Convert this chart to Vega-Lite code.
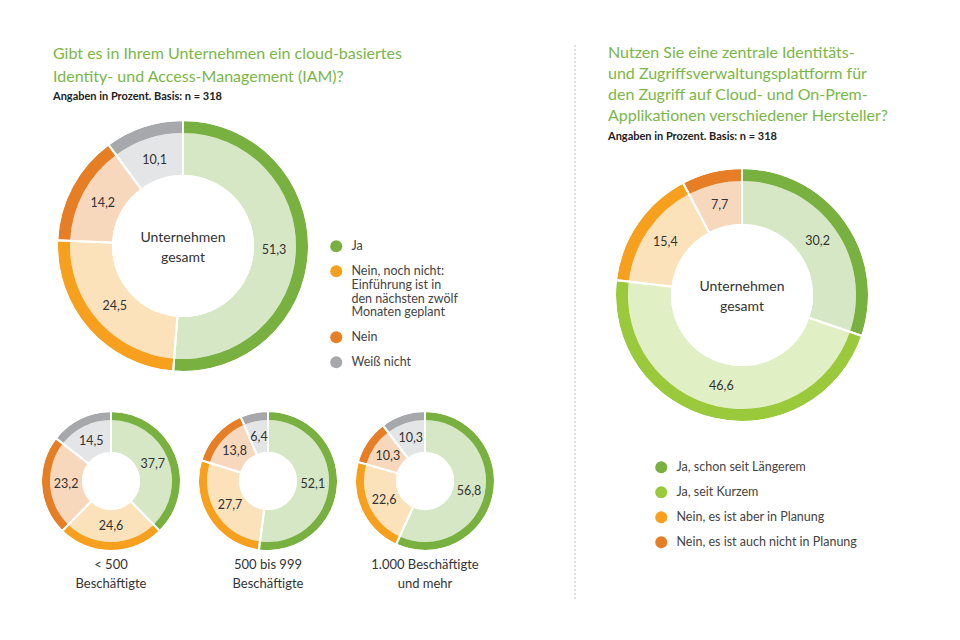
{
  "$schema": "https://vega.github.io/schema/vega-lite/v6.json",
  "padding": {"left": 37, "top": 44, "right": 38, "bottom": 40},
  "background": "white",
  "config": {
    "view": {"stroke": null},
    "font": "Lato",
    "locale": {"number": {"decimal": ",", "thousands": ".", "grouping": [3], "currency": ["", " €"]}}
  },
  "datasets": {
    "gesamt": [
      {"Antwort": "Ja", "Anteil": 51.3, "Rang": 1},
      {"Antwort": "Nein, noch nicht", "Anteil": 24.5, "Rang": 2},
      {"Antwort": "Nein", "Anteil": 14.2, "Rang": 3},
      {"Antwort": "Weiß nicht", "Anteil": 10.1, "Rang": 4}
    ],
    "klein": [
      {"Gruppe": "< 500", "Antwort": "Ja", "Anteil": 37.7, "Rang": 1},
      {"Gruppe": "< 500", "Antwort": "Nein, noch nicht", "Anteil": 24.6, "Rang": 2},
      {"Gruppe": "< 500", "Antwort": "Nein", "Anteil": 23.2, "Rang": 3},
      {"Gruppe": "< 500", "Antwort": "Weiß nicht", "Anteil": 14.5, "Rang": 4},
      {"Gruppe": "500 bis 999", "Antwort": "Ja", "Anteil": 52.1, "Rang": 1},
      {"Gruppe": "500 bis 999", "Antwort": "Nein, noch nicht", "Anteil": 27.7, "Rang": 2},
      {"Gruppe": "500 bis 999", "Antwort": "Nein", "Anteil": 13.8, "Rang": 3},
      {"Gruppe": "500 bis 999", "Antwort": "Weiß nicht", "Anteil": 6.4, "Rang": 4},
      {"Gruppe": "1.000 und mehr", "Antwort": "Ja", "Anteil": 56.8, "Rang": 1},
      {"Gruppe": "1.000 und mehr", "Antwort": "Nein, noch nicht", "Anteil": 22.6, "Rang": 2},
      {"Gruppe": "1.000 und mehr", "Antwort": "Nein", "Anteil": 10.3, "Rang": 3},
      {"Gruppe": "1.000 und mehr", "Antwort": "Weiß nicht", "Anteil": 10.3, "Rang": 4}
    ],
    "zentral": [
      {"Antwort": "Ja, schon seit Längerem", "Anteil": 30.2, "Rang": 1},
      {"Antwort": "Ja, seit Kurzem", "Anteil": 46.6, "Rang": 2},
      {"Antwort": "Nein, es ist aber in Planung", "Anteil": 15.4, "Rang": 3},
      {"Antwort": "Nein, es ist auch nicht in Planung", "Anteil": 7.7, "Rang": 4}
    ],
    "mitte": [{"t": "Unternehmen gesamt"}],
    "linie": [{"d": 0}]
  },
  "spacing": 66,
  "resolve": {"scale": {"color": "independent", "theta": "independent"}, "legend": {"color": "independent"}},
  "hconcat": [
    {
      "bounds": "flush",
      "spacing": 0,
      "resolve": {"scale": {"color": "independent", "theta": "independent"}, "legend": {"color": "independent"}},
      "vconcat": [
        {
          "width": 250,
          "height": 402,
          "data": {"name": "gesamt"},
          "title": {
            "text": ["Gibt es in Ihrem Unternehmen ein cloud-basiertes", "Identity- und Access-Management (IAM)?"],
            "subtitle": "Angaben in Prozent. Basis: n = 318",
            "anchor": "start",
            "offset": -57,
            "fontSize": 16,
            "fontWeight": "normal",
            "color": "#7AB648",
            "lineHeight": 23,
            "subtitleFontSize": 11,
            "subtitleFontWeight": "bold",
            "subtitleColor": "#222222",
            "subtitlePadding": 6
          },
          "layer": [
            {
              "mark": {"type": "arc", "radius": 125, "radius2": 113},
              "encoding": {
                "theta": {"field": "Anteil", "type": "quantitative", "stack": true},
                "order": {"field": "Rang", "type": "quantitative"},
                "color": {
                  "field": "Antwort",
                  "type": "nominal",
                  "scale": {"domain": ["Ja", "Nein, noch nicht", "Nein", "Weiß nicht"], "range": ["#78B13F", "#F6A01E", "#E57E25", "#A6A8AB"]},
                  "legend": {
                    "orient": "none",
                    "legendX": 272,
                    "legendY": 195,
                    "title": null,
                    "padding": 0,
                    "symbolType": "circle",
                    "symbolSize": 144,
                    "symbolOpacity": 1,
                    "symbolStrokeWidth": 0,
                    "labelFontSize": 12.5,
                    "labelColor": "#444444",
                    "labelOffset": 9,
                    "labelLimit": 300,
                    "rowPadding": 12,
                    "labelExpr": "datum.value == 'Nein, noch nicht' ? ['Nein, noch nicht:', 'Einführung ist in', 'den nächsten zwölf', 'Monaten geplant'] : datum.label",
                    "encode": {"labels": {"update": {"lineHeight": {"value": 13.7}}}}
                  }
                }
              }
            },
            {
              "mark": {"type": "arc", "radius": 113, "radius2": 71, "fillOpacity": 0.3},
              "encoding": {
                "theta": {"field": "Anteil", "type": "quantitative", "stack": true},
                "order": {"field": "Rang", "type": "quantitative"},
                "color": {"field": "Antwort", "type": "nominal"}
              }
            },
            {
              "mark": {"type": "arc", "radius": 126, "radius2": 70, "fillOpacity": 0, "stroke": "white", "strokeWidth": 2},
              "encoding": {
                "theta": {"field": "Anteil", "type": "quantitative", "stack": true},
                "order": {"field": "Rang", "type": "quantitative"}
              }
            },
            {
              "mark": {"type": "text", "radius": 91, "fontSize": 12.5, "color": "#333333"},
              "encoding": {
                "theta": {"field": "Anteil", "type": "quantitative", "stack": true},
                "order": {"field": "Rang", "type": "quantitative"},
                "text": {"field": "Anteil", "type": "quantitative", "format": ".1f"}
              }
            },
            {
              "data": {"name": "mitte"},
              "mark": {"type": "text", "text": ["Unternehmen", "gesamt"], "fontSize": 14, "lineHeight": 20, "color": "#333333", "baseline": "middle", "dy": -8},
              "encoding": {}
            }
          ]
        },
        {
          "bounds": "flush",
          "spacing": 51,
          "resolve": {"scale": {"color": "independent", "theta": "independent"}, "legend": {"color": "independent"}},
          "hconcat": [
            {
              "width": 106,
              "height": 68,
              "data": {"name": "klein"},
              "transform": [{"filter": "datum.Gruppe == '< 500'"}],
              "title": {"text": ["< 500", "Beschäftigte"], "orient": "bottom", "anchor": "middle", "offset": 4, "fontSize": 13, "fontWeight": "normal", "color": "#333333", "lineHeight": 19},
              "layer": [
                {"mark": {"type": "arc", "radius": 69, "radius2": 61}, "encoding": {"theta": {"field": "Anteil", "type": "quantitative", "stack": true}, "order": {"field": "Rang", "type": "quantitative"}, "color": {"field": "Antwort", "type": "nominal", "scale": {"domain": ["Ja", "Nein, noch nicht", "Nein", "Weiß nicht"], "range": ["#78B13F", "#F6A01E", "#E57E25", "#A6A8AB"]}, "legend": null}}},
                {"mark": {"type": "arc", "radius": 61, "radius2": 29, "fillOpacity": 0.3}, "encoding": {"theta": {"field": "Anteil", "type": "quantitative", "stack": true}, "order": {"field": "Rang", "type": "quantitative"}, "color": {"field": "Antwort", "type": "nominal"}}},
                {"mark": {"type": "arc", "radius": 70, "radius2": 28, "fillOpacity": 0, "stroke": "white", "strokeWidth": 2}, "encoding": {"theta": {"field": "Anteil", "type": "quantitative", "stack": true}, "order": {"field": "Rang", "type": "quantitative"}}},
                {"mark": {"type": "text", "radius": 45, "fontSize": 12.5, "color": "#333333"}, "encoding": {"theta": {"field": "Anteil", "type": "quantitative", "stack": true}, "order": {"field": "Rang", "type": "quantitative"}, "text": {"field": "Anteil", "type": "quantitative", "format": ".1f"}}}
              ]
            },
            {
              "width": 106,
              "height": 68,
              "data": {"name": "klein"},
              "transform": [{"filter": "datum.Gruppe == '500 bis 999'"}],
              "title": {"text": ["500 bis 999", "Beschäftigte"], "orient": "bottom", "anchor": "middle", "offset": 4, "fontSize": 13, "fontWeight": "normal", "color": "#333333", "lineHeight": 19},
              "layer": [
                {"mark": {"type": "arc", "radius": 69, "radius2": 61}, "encoding": {"theta": {"field": "Anteil", "type": "quantitative", "stack": true}, "order": {"field": "Rang", "type": "quantitative"}, "color": {"field": "Antwort", "type": "nominal", "scale": {"domain": ["Ja", "Nein, noch nicht", "Nein", "Weiß nicht"], "range": ["#78B13F", "#F6A01E", "#E57E25", "#A6A8AB"]}, "legend": null}}},
                {"mark": {"type": "arc", "radius": 61, "radius2": 29, "fillOpacity": 0.3}, "encoding": {"theta": {"field": "Anteil", "type": "quantitative", "stack": true}, "order": {"field": "Rang", "type": "quantitative"}, "color": {"field": "Antwort", "type": "nominal"}}},
                {"mark": {"type": "arc", "radius": 70, "radius2": 28, "fillOpacity": 0, "stroke": "white", "strokeWidth": 2}, "encoding": {"theta": {"field": "Anteil", "type": "quantitative", "stack": true}, "order": {"field": "Rang", "type": "quantitative"}}},
                {"mark": {"type": "text", "radius": 45, "fontSize": 12.5, "color": "#333333"}, "encoding": {"theta": {"field": "Anteil", "type": "quantitative", "stack": true}, "order": {"field": "Rang", "type": "quantitative"}, "text": {"field": "Anteil", "type": "quantitative", "format": ".1f"}}}
              ]
            },
            {
              "width": 106,
              "height": 68,
              "data": {"name": "klein"},
              "transform": [{"filter": "datum.Gruppe == '1.000 und mehr'"}],
              "title": {"text": ["1.000 Beschäftigte", "und mehr"], "orient": "bottom", "anchor": "middle", "offset": 4, "fontSize": 13, "fontWeight": "normal", "color": "#333333", "lineHeight": 19},
              "layer": [
                {"mark": {"type": "arc", "radius": 69, "radius2": 61}, "encoding": {"theta": {"field": "Anteil", "type": "quantitative", "stack": true}, "order": {"field": "Rang", "type": "quantitative"}, "color": {"field": "Antwort", "type": "nominal", "scale": {"domain": ["Ja", "Nein, noch nicht", "Nein", "Weiß nicht"], "range": ["#78B13F", "#F6A01E", "#E57E25", "#A6A8AB"]}, "legend": null}}},
                {"mark": {"type": "arc", "radius": 61, "radius2": 29, "fillOpacity": 0.3}, "encoding": {"theta": {"field": "Anteil", "type": "quantitative", "stack": true}, "order": {"field": "Rang", "type": "quantitative"}, "color": {"field": "Antwort", "type": "nominal"}}},
                {"mark": {"type": "arc", "radius": 70, "radius2": 28, "fillOpacity": 0, "stroke": "white", "strokeWidth": 2}, "encoding": {"theta": {"field": "Anteil", "type": "quantitative", "stack": true}, "order": {"field": "Rang", "type": "quantitative"}}},
                {"mark": {"type": "text", "radius": 45, "fontSize": 12.5, "color": "#333333"}, "encoding": {"theta": {"field": "Anteil", "type": "quantitative", "stack": true}, "order": {"field": "Rang", "type": "quantitative"}, "text": {"field": "Anteil", "type": "quantitative", "format": ".1f"}}}
              ]
            }
          ]
        }
      ]
    },
    {
      "bounds": "flush",
      "spacing": 23,
      "resolve": {"scale": {"color": "independent", "theta": "independent"}, "legend": {"color": "independent"}},
      "hconcat": [
        {
          "width": 20,
          "height": 555,
          "data": {"name": "linie"},
          "mark": {"type": "rule", "color": "#BBBBBB", "strokeDash": [2, 2], "strokeWidth": 1},
          "encoding": {"x": {"field": "d", "type": "quantitative", "scale": {"domain": [-1, 1]}, "axis": null}}
        },
        {
          "width": 268,
          "height": 500,
          "data": {"name": "zentral"},
          "title": {
            "text": ["Nutzen Sie eine zentrale Identitäts-", "und Zugriffsverwaltungsplattform für", "den Zugriff auf Cloud- und On-Prem-", "Applikationen verschiedener Hersteller?"],
            "subtitle": "Angaben in Prozent. Basis: n = 318",
            "anchor": "start",
            "offset": -97,
            "fontSize": 16,
            "fontWeight": "normal",
            "color": "#7AB648",
            "lineHeight": 21,
            "subtitleFontSize": 11,
            "subtitleFontWeight": "bold",
            "subtitleColor": "#222222",
            "subtitlePadding": 7
          },
          "layer": [
            {
              "mark": {"type": "arc", "radius": 126, "radius2": 114},
              "encoding": {
                "theta": {"field": "Anteil", "type": "quantitative", "stack": true},
                "order": {"field": "Rang", "type": "quantitative"},
                "color": {
                  "field": "Antwort",
                  "type": "nominal",
                  "scale": {"domain": ["Ja, schon seit Längerem", "Ja, seit Kurzem", "Nein, es ist aber in Planung", "Nein, es ist auch nicht in Planung"], "range": ["#78B13F", "#9ACA3C", "#F6A01E", "#E57E25"]},
                  "legend": {
                    "orient": "none",
                    "legendX": 47,
                    "legendY": 416,
                    "title": null,
                    "padding": 0,
                    "symbolType": "circle",
                    "symbolSize": 144,
                    "symbolOpacity": 1,
                    "symbolStrokeWidth": 0,
                    "labelFontSize": 12.5,
                    "labelColor": "#444444",
                    "labelOffset": 9,
                    "labelLimit": 300,
                    "rowPadding": 12
                  }
                }
              }
            },
            {
              "mark": {"type": "arc", "radius": 114, "radius2": 71, "fillOpacity": 0.3},
              "encoding": {
                "theta": {"field": "Anteil", "type": "quantitative", "stack": true},
                "order": {"field": "Rang", "type": "quantitative"},
                "color": {"field": "Antwort", "type": "nominal"}
              }
            },
            {
              "mark": {"type": "arc", "radius": 127, "radius2": 70, "fillOpacity": 0, "stroke": "white", "strokeWidth": 2},
              "encoding": {
                "theta": {"field": "Anteil", "type": "quantitative", "stack": true},
                "order": {"field": "Rang", "type": "quantitative"}
              }
            },
            {
              "mark": {"type": "text", "radius": 93, "fontSize": 12.5, "color": "#333333"},
              "encoding": {
                "theta": {"field": "Anteil", "type": "quantitative", "stack": true},
                "order": {"field": "Rang", "type": "quantitative"},
                "text": {"field": "Anteil", "type": "quantitative", "format": ".1f"}
              }
            },
            {
              "data": {"name": "mitte"},
              "mark": {"type": "text", "text": ["Unternehmen", "gesamt"], "fontSize": 14, "lineHeight": 20, "color": "#333333", "baseline": "middle", "dy": -8},
              "encoding": {}
            }
          ]
        }
      ]
    }
  ]
}
